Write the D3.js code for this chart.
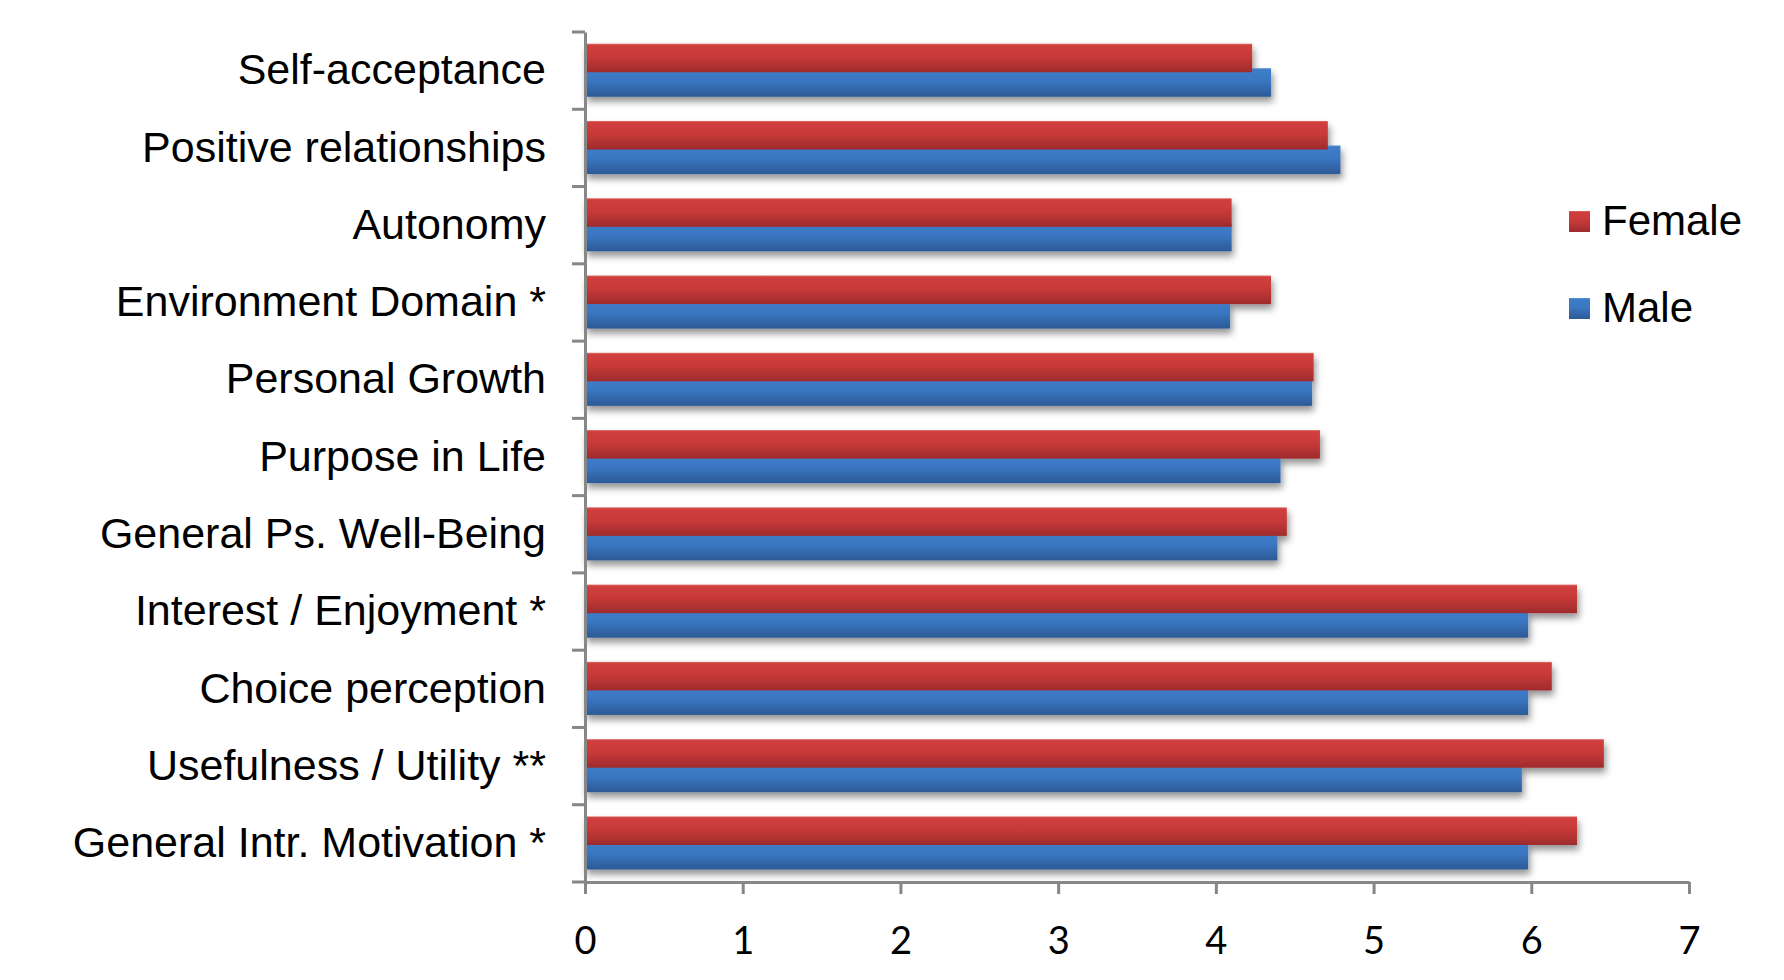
<!DOCTYPE html>
<html>
<head>
<meta charset="utf-8">
<script src="https://cdn.jsdelivr.net/npm/d3@7"></script>
<style>
  html, body { margin: 0; padding: 0; background: #fff; }
  svg { display: block; }
</style>
</head>
<body>
<div id="chart"></div>
<script>
const categories = [
  "Self-acceptance",
  "Positive relationships",
  "Autonomy",
  "Environment Domain *",
  "Personal Growth",
  "Purpose in Life",
  "General Ps. Well-Being",
  "Interest / Enjoyment *",
  "Choice perception",
  "Usefulness / Utility **",
  "General Intr. Motivation *",
];
const femaleValues = [4.23, 4.71, 4.10, 4.35, 4.62, 4.66, 4.45, 6.29, 6.13, 6.46, 6.29];
const maleValues = [4.35, 4.79, 4.10, 4.09, 4.61, 4.41, 4.39, 5.98, 5.98, 5.94, 5.98];
const seriesNames = ["Female", "Male"];
const xTicks = [0, 1, 2, 3, 4, 5, 6, 7];

const WIDTH = 1784;
const HEIGHT = 980;
const AXIS_COLOR = "#878787";
const LABEL_FONT = "'Liberation Sans', Arial, sans-serif";
const TICK_FONT = "Lato, 'Open Sans', sans-serif";

const svg = d3
  .select("#chart")
  .append("svg")
  .attr("width", WIDTH)
  .attr("height", HEIGHT)
  .attr("viewBox", [0, 0, WIDTH, HEIGHT]);

const defs = svg.append("defs");

function addGradient(id, stops) {
  const grad = defs
    .append("linearGradient")
    .attr("id", id)
    .attr("x1", 0).attr("y1", 0)
    .attr("x2", 0).attr("y2", 1);
  stops.forEach(([offset, color]) => {
    grad.append("stop").attr("offset", offset).attr("stop-color", color);
  });
}

addGradient("grad-Female", [
  [0, "#e07a76"],
  [0.05, "#d03f3d"],
  [0.45, "#c83a38"],
  [1, "#9e2b2c"],
]);
addGradient("grad-Male", [
  [0, "#6a9ad6"],
  [0.05, "#3f7dc9"],
  [0.45, "#3a76c2"],
  [1, "#2c5a96"],
]);

const shadow = defs
  .append("filter")
  .attr("id", "bar-shadow")
  .attr("x", "-5%").attr("y", "-5%")
  .attr("width", "110%").attr("height", "110%");
shadow
  .append("feDropShadow")
  .attr("dx", 2)
  .attr("dy", 5)
  .attr("stdDeviation", 3.5)
  .attr("flood-color", "#000")
  .attr("flood-opacity", 0.42);

const x = d3.scaleLinear().domain([0, 7]).range([585, 1689]);
const y = d3.scaleBand().domain(categories).range([32, 882]).padding(0);
const bw = y.bandwidth();
// Excel-style clustered bars: Female sits slightly over the Male bar
const subY = d3.scalePoint().domain(seriesNames).range([bw * 0.151, bw * 0.468]);
const barHeight = bw * 0.37;

const rows = categories.map((cat, i) => ({
  cat,
  Female: femaleValues[i],
  Male: maleValues[i],
}));

const barsGroup = svg
  .append("g")
  .attr("class", "bars")
  .attr("filter", "url(#bar-shadow)");
// male first so the female bar overlaps it
["Male", "Female"].forEach((name) => {
  barsGroup
    .append("g")
    .attr("class", `series-${name}`)
    .selectAll("rect")
    .data(rows)
    .join("rect")
    .attr("x", x(0))
    .attr("y", (d) => y(d.cat) + subY(name))
    .attr("width", (d) => x(d[name]) - x(0))
    .attr("height", barHeight)
    .attr("fill", `url(#grad-${name})`);
});

// x axis
const xAxis = svg
  .append("g")
  .attr("transform", `translate(0,${y.range()[1]})`)
  .call(
    d3
      .axisBottom(x)
      .tickValues(xTicks)
      .tickFormat(d3.format("d"))
      .tickSize(12)
      .tickSizeOuter(0)
      .tickPadding(33)
  );
xAxis.select(".domain").attr("stroke", AXIS_COLOR).attr("stroke-width", 3);
xAxis.selectAll(".tick line").attr("stroke", AXIS_COLOR).attr("stroke-width", 3);
xAxis
  .selectAll(".tick text")
  .attr("fill", "#000")
  .style("font-family", TICK_FONT)
  .style("font-size", "38px");

// y axis
const yAxis = svg
  .append("g")
  .attr("transform", `translate(${x(0)},0)`)
  .call(d3.axisLeft(y).tickSize(0).tickPadding(39));
yAxis.select(".domain").attr("stroke", AXIS_COLOR).attr("stroke-width", 3);
yAxis
  .selectAll(".tick text")
  .attr("fill", "#000")
  .style("font-family", LABEL_FONT)
  .style("font-size", "43px");

const boundaries = categories.map((c) => y(c)).concat([y.range()[1]]);
yAxis
  .append("g")
  .selectAll("line")
  .data(boundaries)
  .join("line")
  .attr("x1", -13)
  .attr("x2", 0)
  .attr("y1", (d) => d)
  .attr("y2", (d) => d)
  .attr("stroke", AXIS_COLOR)
  .attr("stroke-width", 3);

// legend
const legendY = d3.scalePoint().domain(seriesNames).range([221.5, 308.5]);
const legend = svg.append("g").attr("class", "legend");
seriesNames.forEach((name) => {
  const cy = legendY(name);
  legend
    .append("rect")
    .attr("x", 1569)
    .attr("y", cy - 10.5)
    .attr("width", 21)
    .attr("height", 21)
    .attr("fill", `url(#grad-${name})`);
  legend
    .append("text")
    .attr("x", 1602)
    .attr("y", cy + 13.5)
    .attr("fill", "#000")
    .style("font-family", LABEL_FONT)
    .style("font-size", "42px")
    .text(name);
});
</script>
</body>
</html>
